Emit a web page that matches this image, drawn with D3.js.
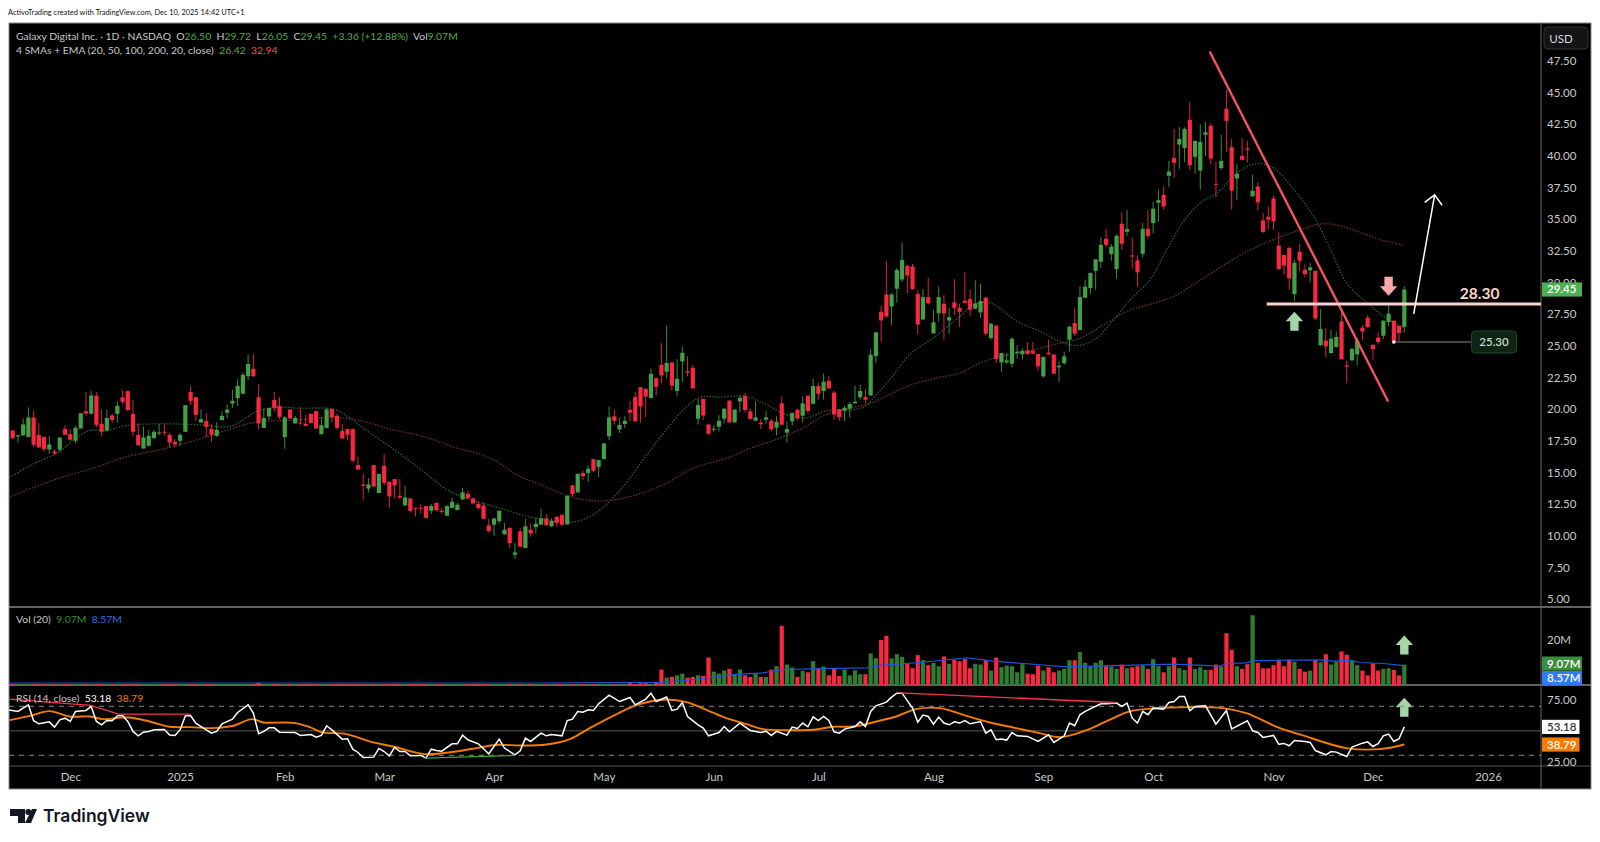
<!DOCTYPE html>
<html>
<head>
<meta charset="utf-8">
<title>Galaxy Digital Inc. 1D</title>
<script src="https://cdn.jsdelivr.net/npm/d3@7"></script>
<style>
    html, body { margin: 0; padding: 0; background: #fff; }
    svg { display: block; font-family: Lato, "Noto Sans", sans-serif; }
</style>
</head>
<body>
<svg id="chart" width="1600" height="842"></svg>
<script>
// Daily candles, oldest first
var opens = [18.31,17.84,17.92,17.79,19.34,17.97,17.81,16.81,16.65,16.79,18.44,18.02,17.50,18.47,19.84,19.63,21.05,18.84,18.31,19.50,
    19.63,20.92,21.42,19.63,17.97,16.89,17.10,17.71,18.10,18.21,17.97,17.42,17.50,18.21,21.36,20.94,18.94,19.05,18.44,17.89,
    19.13,19.71,20.44,20.87,21.21,22.60,23.18,20.94,18.52,19.42,20.73,20.26,17.79,19.97,18.87,18.94,18.84,19.63,19.84,18.02,
    18.52,20.02,19.47,18.29,18.44,18.44,15.58,14.05,13.73,15.58,13.37,15.52,14.26,14.47,13.16,12.39,12.95,12.21,12.21,12.34,
    11.97,12.60,11.97,11.58,12.18,12.02,12.87,13.31,12.95,12.52,12.39,10.82,10.87,11.16,10.10,10.63,8.50,10.34,9.03,10.47,
    10.68,10.87,11.37,10.74,11.50,11.66,10.89,13.97,13.42,14.95,14.95,16.05,15.42,16.05,17.85,19.43,18.40,18.82,19.95,20.95,
    21.74,21.61,20.87,22.45,23.50,22.95,23.69,21.43,23.77,23.00,23.27,19.24,20.82,18.79,18.37,18.61,19.24,20.66,18.95,20.61,
    21.06,19.82,19.08,18.93,19.16,19.08,18.53,20.45,18.14,19.03,19.95,19.48,21.06,20.43,21.82,21.43,22.24,21.30,20.00,19.87,
    20.03,20.45,20.93,20.95,21.08,24.19,27.69,29.06,28.11,29.51,30.24,31.32,31.27,29.11,27.08,28.85,25.98,27.58,28.32,27.00,
    28.43,27.98,28.56,28.69,27.93,27.64,28.80,25.61,26.59,23.69,23.69,23.59,24.43,24.33,24.64,24.61,24.35,22.59,24.46,24.30,
    23.30,23.62,25.48,26.80,26.25,28.80,29.56,30.93,31.64,33.46,32.25,31.06,34.64,34.01,32.14,31.75,32.27,34.25,34.69,36.30,
    36.93,38.43,39.85,40.90,40.64,42.85,39.93,38.85,41.67,42.38,37.80,39.04,43.72,40.69,38.22,40.01,40.59,36.80,37.59,34.91,
    35.20,36.64,32.91,32.17,32.72,29.09,32.43,31.01,30.96,30.93,25.04,25.41,24.43,24.91,26.93,23.46,23.85,24.33,26.43,27.22,
    25.09,25.64,25.80,26.88,26.99,26.59,26.50];
var highs = [18.36,17.94,19.26,20.15,19.89,18.89,17.81,17.87,16.84,17.76,18.73,18.42,18.68,19.68,21.36,21.42,21.34,19.97,19.97,19.63,
    20.63,21.47,21.42,20.71,18.89,18.63,18.36,18.36,18.84,18.84,18.15,17.63,18.10,20.31,21.84,20.94,20.00,19.68,18.79,18.97,
    19.84,20.36,21.52,22.36,22.89,24.31,24.36,21.97,20.07,20.10,21.34,20.94,19.47,19.97,19.47,20.15,19.55,19.63,19.89,19.36,
    20.07,20.02,19.63,18.84,18.44,18.44,16.23,14.89,14.55,15.58,14.89,16.47,14.26,14.47,14.47,13.95,12.95,12.21,12.52,12.34,
    12.52,12.60,12.16,12.42,13.02,12.58,13.79,13.50,13.02,12.71,12.58,11.34,11.37,11.99,11.02,10.63,9.42,10.60,11.34,10.95,
    11.39,12.13,11.71,11.37,11.50,11.66,13.16,14.03,14.89,15.13,15.55,16.05,16.00,17.29,20.19,19.95,19.30,19.43,20.64,21.35,
    21.74,21.61,23.21,22.45,25.21,26.59,23.69,23.95,24.95,24.19,23.50,20.82,20.82,18.79,18.74,19.53,20.08,20.74,20.00,21.08,
    21.27,20.03,20.61,19.22,19.87,19.22,19.43,21.00,19.03,19.77,20.03,21.00,21.06,22.40,22.08,22.79,22.58,21.43,20.00,20.27,
    20.56,21.85,21.93,21.58,24.74,26.11,28.16,31.69,29.16,31.14,33.14,31.40,31.48,29.37,29.48,30.37,27.85,29.69,29.03,27.98,
    30.27,28.33,30.80,29.43,30.17,29.90,28.90,26.80,26.67,24.43,24.43,25.69,25.06,24.82,25.30,25.30,24.35,24.17,25.48,24.35,
    23.75,24.54,26.59,27.98,29.69,30.22,30.80,31.83,33.59,34.22,33.04,33.82,35.56,35.74,33.54,32.14,34.69,35.69,36.38,37.33,
    37.59,39.61,42.14,42.27,42.27,44.27,41.22,42.51,42.69,42.59,39.54,41.67,45.22,41.33,39.38,41.41,41.20,38.51,37.93,35.49,
    36.01,36.85,33.96,32.17,32.85,31.80,33.06,31.43,31.54,30.93,27.91,26.41,26.28,26.14,27.59,23.83,24.83,25.62,26.64,27.43,
    25.09,26.09,26.99,28.20,26.99,26.59,29.72];
var lows = [17.65,17.31,17.92,17.79,17.00,16.97,16.68,16.47,16.39,16.63,17.97,17.52,17.31,18.47,19.47,19.58,18.58,17.84,18.21,18.89,
    18.94,20.42,19.86,17.84,17.10,16.89,17.05,17.68,17.94,17.89,16.94,17.00,17.10,18.21,20.34,19.08,18.92,17.79,17.42,17.81,
    19.10,19.29,20.10,20.26,21.21,22.31,22.52,18.44,18.52,19.15,19.81,19.21,16.87,19.26,18.87,18.76,18.68,18.89,18.42,18.00,
    18.50,18.94,18.36,17.68,17.52,15.79,15.23,12.84,13.42,13.84,13.37,14.00,12.21,12.95,12.89,12.39,11.84,11.52,11.74,11.39,
    11.71,11.92,11.76,11.58,12.18,12.02,12.84,12.89,12.52,12.10,11.34,10.24,10.00,10.95,10.10,9.02,8.18,9.10,9.03,9.92,
    10.18,10.87,10.79,10.71,10.71,10.74,10.87,13.10,13.39,14.37,14.24,15.00,14.63,16.05,17.53,18.77,18.11,18.50,19.03,19.03,
    18.95,19.37,20.87,21.08,22.06,22.45,21.48,21.00,22.16,22.58,21.61,18.77,19.16,17.98,18.22,18.24,18.87,18.93,18.93,19.77,
    19.74,19.16,19.08,18.40,18.85,18.24,17.93,18.74,17.37,18.69,19.11,18.95,19.64,20.37,20.74,20.74,21.58,19.16,19.08,19.03,
    19.32,20.45,20.74,20.43,21.06,23.64,25.29,27.22,26.66,28.40,30.06,29.14,29.43,25.90,27.08,28.27,25.95,26.93,25.48,25.98,
    27.43,26.48,28.38,27.38,27.90,27.22,25.80,25.48,23.64,22.96,23.59,23.30,23.98,23.90,24.33,24.38,23.06,22.43,24.27,22.80,
    22.12,23.51,24.54,25.80,26.22,28.80,29.12,29.43,31.14,32.80,31.72,30.30,32.59,33.69,31.09,29.67,31.98,33.48,33.90,34.80,
    35.75,37.54,38.27,38.98,39.51,38.90,38.59,37.33,40.01,39.33,36.75,38.90,40.30,35.75,36.54,39.64,39.49,36.80,35.70,33.91,
    34.22,34.17,31.01,30.62,29.43,28.54,30.88,30.43,30.01,27.01,25.01,24.09,24.38,24.88,23.93,22.06,23.83,23.46,25.43,26.43,
    23.91,25.09,25.54,26.54,25.35,25.35,26.05];
var closes = [17.71,17.94,18.79,19.34,17.18,16.97,16.84,17.21,16.50,17.76,17.97,17.58,18.52,19.68,19.65,21.08,18.76,18.21,19.29,19.15,
    20.26,20.58,19.92,18.21,17.15,17.76,17.89,18.21,18.15,18.15,17.36,17.21,17.97,20.31,20.65,19.55,19.21,18.60,17.97,18.36,
    19.47,19.97,20.65,21.84,22.71,23.57,22.60,18.87,19.29,20.10,20.07,19.39,19.34,19.26,19.31,18.89,18.68,18.89,18.47,18.73,
    19.97,19.34,18.52,17.68,17.97,15.92,15.23,13.94,14.05,13.89,14.89,14.18,13.10,13.97,13.02,13.02,11.97,12.16,12.16,11.42,
    12.34,12.02,11.87,12.34,12.68,12.45,13.42,12.95,12.55,12.18,11.34,10.37,11.37,11.97,10.47,9.42,8.68,9.13,10.74,10.18,
    10.95,11.37,10.84,11.18,11.02,10.87,13.16,13.29,14.89,14.71,15.29,15.13,15.97,17.29,19.35,19.08,18.74,19.08,19.72,19.03,
    20.22,21.00,22.79,21.77,22.66,23.64,21.85,22.40,24.45,22.90,21.64,20.32,19.50,18.06,18.45,19.08,20.03,18.95,19.95,20.90,
    19.93,19.22,19.35,18.80,19.35,18.40,19.00,18.77,18.43,19.69,19.27,20.45,19.85,21.82,21.21,22.16,21.64,19.58,19.37,20.11,
    20.40,20.58,21.43,20.74,24.29,26.06,27.00,27.32,29.06,31.00,31.79,30.56,29.48,26.69,28.85,28.35,26.85,28.85,27.56,27.27,
    28.00,27.69,28.40,27.85,28.35,28.54,25.96,26.75,23.96,24.43,23.85,25.56,24.54,24.61,24.33,24.38,23.38,24.12,24.33,22.80,
    23.43,24.17,26.51,25.96,28.85,29.67,30.75,31.83,32.98,32.98,32.83,33.69,33.06,34.22,32.06,30.80,34.25,33.69,35.83,36.51,
    36.01,38.77,39.46,41.33,42.14,39.27,41.19,41.11,41.88,39.80,37.72,39.61,42.77,37.27,38.59,39.70,40.49,37.25,36.33,33.99,
    34.96,34.83,31.06,31.35,30.33,31.56,31.72,30.67,31.20,27.17,26.33,24.96,25.57,25.70,23.93,23.36,24.75,25.41,26.12,26.49,
    24.75,25.30,26.99,27.54,25.35,26.01,29.45];

// Volume in millions. The early bars are a sliver on the baseline
var volumes = [0.3,0.3,0.3,0.3,0.3,0.3,0.3,0.3,0.3,0.3,0.3,0.3,0.3,0.3,0.3,0.3,0.3,0.3,0.3,0.3,
    0.3,0.3,0.3,0.3,0.3,0.3,0.3,0.3,0.3,0.3,0.3,0.3,0.3,0.3,0.3,0.3,0.3,0.3,0.3,0.3,
    0.3,0.3,0.3,0.3,0.3,0.3,0.3,0.9,0.3,0.3,0.3,0.3,0.3,0.3,0.3,0.3,0.3,0.3,0.3,0.3,
    0.3,0.3,0.3,0.3,0.3,0.3,0.3,0.3,0.3,0.3,0.3,0.3,0.3,0.3,0.3,0.3,0.3,0.3,0.3,0.3,
    0.3,0.3,0.3,0.3,0.3,0.3,0.3,0.3,0.3,0.3,0.3,0.3,0.3,0.3,0.3,0.3,0.3,0.3,0.3,0.3,
    0.3,0.3,0.3,0.3,0.3,0.3,0.3,0.3,0.3,0.3,0.3,0.3,0.3,0.3,0.3,0.3,0.3,0.3,0.8,0.4,
    0.8,0.8,0.5,1.0,6.85,3.3,3.6,4.3,5.05,3.3,3.6,4.3,4.0,12.2,5.95,5.05,6.4,7.15,4.8,6.85,
    4.3,3.6,5.05,3.6,3.6,6.85,8.35,26.3,9.1,7.75,3.6,6.25,5.65,10.6,7.15,8.2,4.3,7.3,4.0,6.85,
    4.3,6.55,4.8,4.8,14.0,11.9,20.0,21.9,11.8,13.7,12.5,9.4,7.45,13.3,11.0,8.8,9.85,8.35,12.7,9.4,
    11.3,10.6,11.6,7.45,9.4,9.1,11.0,6.4,12.2,7.9,8.65,8.35,5.65,9.25,5.05,4.8,8.65,6.4,7.9,5.65,
    6.4,7.15,11.0,11.0,14.6,9.85,8.2,9.85,11.0,8.5,8.2,7.15,9.1,7.45,7.9,8.35,8.8,7.15,11.5,8.35,
    5.65,8.35,12.2,7.45,6.7,12.2,7.15,7.9,6.7,6.7,9.1,8.35,23.0,15.7,8.35,7.15,9.25,31.0,9.85,7.45,
    7.45,8.8,11.3,8.35,11.3,10.3,7.15,5.95,6.4,11.3,10.1,13.7,9.1,10.3,14.9,13.4,11.0,8.8,6.4,4.3,
    9.55,6.4,7.15,7.45,6.7,4.3,9.07];

// Moving averages at the bar numbers in the Days arrays
var sma20Days = [-0.6,3.6,9,12,14.8,18,21.5,28,35.8,41.5,44,46.6,50.4,55,61.3,64.5,67,73.4,78.5,83,86,92.5,98.9,101.4,105.9,109.7,112.9,116.7,121.2,125,128.2,131.4,135.2,140.3,144.1,147.9,151.7,155.5,159.3,162.8,165.1,168.2,171.4,175.9,181.1,183.7,186.9,192,196.4,200.9,204,207.2,210.4,213.6,217.4,220.6,223.8,227,230.2,234,237.6,241,244.9,248.7,251.9,255,258.9,262.7,266];
var sma20Values = [14.6,15.6,16.65,17.71,18.31,18.31,18.68,18.84,18.76,18.63,19.15,19.81,20.13,20.07,20.0,19.29,18.5,16.66,15.08,13.63,13.05,12.26,11.47,11.31,11.05,11.39,12.26,13.89,16.39,18.4,19.95,20.93,20.95,21.0,20.35,19.56,19.3,19.87,19.9,20.2,21.14,22.6,24.3,25.61,27.33,28.25,28.38,26.93,26.14,25.22,25.04,25.61,27.06,28.64,30.22,32.59,34.83,36.28,37.06,38.64,39.38,39.04,37.33,35.22,32.59,29.96,28.38,27.14,26.42];
var sma50Days = [-0.6,3.9,10.3,16,21.5,29.4,37,42.2,46,50.4,54.9,61.3,67,72.1,78.5,84.9,88.7,92.5,96.3,101.4,106.5,111,114.2,119.3,124.4,130.1,137.2,140.3,145.4,150.4,155.5,160,163.8,168.2,171.4,176.5,181.1,184.9,188.8,193.9,199,204.1,209.1,213,219.3,221.9,225.7,229.6,236,241.7,246.2,250,252.9,257.6,261.5,266];
var sma50Values = [13.05,13.8,14.73,15.42,16.2,16.92,17.79,18.5,18.94,19.08,19.15,19.37,19.03,18.42,17.84,16.92,16.53,15.87,14.82,13.95,13.1,12.76,12.79,13.24,14.03,15.34,16.21,16.8,17.53,18.37,19.56,20.08,20.43,21.27,21.87,22.45,22.85,23.64,24.17,24.56,25.09,25.61,26.8,27.72,28.51,28.9,29.83,30.88,32.46,33.51,34.17,34.62,34.56,33.96,33.38,32.94];
var volMaDays = [-1,100,124,128.8,132.6,137.7,143.4,147.3,154.3,163.2,166.3,173.4,182.3,187.4,196.3,201.4,209,221.8,230.7,232,235.8,237,244.1,250.5,252.4,255.6,257.5,262,266];
var volMaValues = [0.9,0.9,1.2,2.1,3.1,4.6,5.4,6.9,7.3,7.6,8.8,10,12.1,10.6,9.0,8.1,8.5,9.25,8.35,9.55,9.85,10.75,11.05,11.05,10.6,11.05,10,9.55,8.57];

// RSI turning points
var rsiDays = [-1,1,2,3,4,5,7,8,9,10,11,12,14,15,16,17,18,19,20,21,22,23,24,25,26,27,29,30,31,32,33,34,35,36,38,39,40,42,43,45,46,47,48,49,50,51,54,55,57,58,59,60,61,63,64,65,66,67,69,70,71,72,73,74,75,76,78,79,80,81,82,84,85,86,87,89,91,93,94,96,
    97,98,99,101,102,103,105,106,107,108,109,110,111,112,114,116,118,119,121,122,123,125,126,127,128,129,131,132,133,135,136,137,139,141,143,144,145,146,148,149,150,151,152,153,154,155,156,157,158,159,161,162,163,164,165,167,168,169,170,172,173,174,175,176,177,178,179,180,181,182,183,185,186,187,188,189,190,191,192,194,196,
    198,199,201,202,203,204,205,208,209,211,212,213,214,215,216,217,218,220,221,222,223,224,225,226,228,230,232,233,236,237,238,239,241,242,243,244,245,247,248,249,251,252,253,255,256,258,259,260,261,262,263,264,265,266];
var rsiValues = [67.1,65.8,68.5,71.2,58.2,55.7,57.3,53.0,59.0,60.3,57.6,65.8,66.6,69.9,57.6,54.9,58.4,58.2,62.2,62.5,57.6,49.5,45.9,48.9,49.5,50.8,51.1,46.5,46.2,50.8,62.2,62.5,56.3,53.5,48.1,49.5,55.7,59.5,65.0,71.2,64.4,47.6,49.5,52.4,52.4,48.9,48.6,46.2,47.0,44.8,46.2,54.1,50.8,43.2,43.5,35.0,32.3,28.2,28.5,35.6,33.1,29.6,36.4,33.1,33.1,29.6,29.9,27.7,35.0,33.9,33.4,39.4,39.4,46.5,42.7,39.4,31.2,43.2,35.9,30.4,
    33.7,44.0,41.3,48.1,45.9,47.0,45.9,58.4,59.5,65.8,65.2,67.1,66.6,72.0,79.1,73.9,77.2,71.2,75.9,80.7,73.9,77.5,66.6,67.7,73.1,61.7,54.9,52.2,45.9,48.6,53.5,49.2,56.3,50.3,48.6,49.7,46.2,49.5,46.5,53.0,51.9,56.3,53.3,61.4,58.4,61.7,58.4,49.2,48.1,51.4,53.5,57.3,53.5,65.8,70.4,73.4,77.5,80.7,80.7,68.5,57.1,62.8,61.7,55.4,61.2,56.3,54.9,57.3,56.3,58.4,55.7,57.6,48.1,50.8,42.7,43.2,42.4,48.6,45.9,45.4,41.3,
    46.7,40.5,45.9,56.3,54.1,63.1,65.8,72.0,72.0,72.6,69.9,72.6,60.3,56.3,65.8,63.1,68.5,67.7,73.1,73.9,78.0,78.0,66.3,69.9,70.4,55.4,66.6,51.6,58.2,50.0,48.6,44.6,46.2,39.1,39.7,37.8,42.1,41.3,40.5,33.9,30.4,33.1,32.6,29.0,36.7,39.9,41.0,37.2,39.4,45.9,47.3,41.3,43.5,53.18];
var rsiMaDays = [-0.6,3.3,7,10.9,14.8,17.3,22.1,26.2,30,33.9,38.3,42.2,45.7,47.9,53.6,56.8,59,63.8,68.9,72.7,78.8,84.8,89.3,92.8,96.9,102,106.5,110.3,114.8,118.6,121.8,125,128.8,132.6,136.4,140.3,143.4,147.9,153,156.8,160.6,166.4,168.9,172.7,177.2,182.3,186.8,191.2,196.3,200.1,204.6,209,213.5,217.9,224.9,231.3,235.8,241.5,246.6,254.9,261.3,266];
var rsiMaValues = [58.7,62.2,66.1,61.7,61.7,59.5,60.9,57.6,53.3,53,52.2,54.1,59.5,56.8,56.5,53,48.9,47.3,40.5,37.2,31,33.1,36.4,38.6,38,38.8,43.2,52.2,62.2,69.9,73.9,75.6,73.4,67.1,60.3,55.4,51.4,50.5,50.8,53.3,53.5,59,61.7,67.7,68.5,62.2,56.8,52.7,48.1,44.8,49.5,57.6,65.8,68.2,69.3,68.5,64.4,53.5,46.2,35.9,35,38.79];

// Axis ticks
var priceTicks = [5,7.5,10,12.5,15,17.5,20,22.5,25,27.5,30,32.5,35,37.5,40,42.5,45,47.5];
var volTicks = [20];
var rsiTicks = [25,75];
var rsiLevels = [30,70];
var monthTicks = [11,32,52,71,92,113,134,154,176,197,218,241,260,282];
var monthLabels = ["Dec","2025","Feb","Mar","Apr","May","Jun","Jul","Aug","Sep","Oct","Nov","Dec","2026"];

var GREEN = "#43a047", RED = "#f7283f", VOL_GREEN = "#2e7d32", TEXT = "#c8c8c8";

var svg = d3.select("#chart");

// Pane edges
var frameLeft = 9, axisX = 1541, frameRight = 1591, frameTop = 23, frameBottom = 789;
var priceBottom = 607, volBottom = 685, rsiBottom = 766;

var x = d3.scaleLinear().domain([0, 266]).range([12.7, 1404.3]);
var y = d3.scaleLinear().domain([5, 47.5]).range([599, 61]);
var yVol = d3.scaleLinear().domain([0, 20]).range([volBottom, 640]);
var yRsi = d3.scaleLinear().domain([30, 70]).range([755.3, 706.3]);

// Frame and pane backgrounds
svg.append("rect").attr("x", frameLeft).attr("y", frameTop).attr("width", frameRight - frameLeft).attr("height", frameBottom - frameTop)
    .attr("fill", "#000").attr("stroke", "#8a8a8a").attr("stroke-width", 1);

var defs = svg.append("defs");
function addClip(id, y0, y1) {
    defs.append("clipPath").attr("id", id).append("rect")
        .attr("x", frameLeft).attr("y", y0).attr("width", axisX - frameLeft).attr("height", y1 - y0);
}
addClip("clipPrice", frameTop, priceBottom);
addClip("clipVol", priceBottom, volBottom);
addClip("clipRsi", volBottom, rsiBottom);

// Pane separators
[priceBottom, volBottom].forEach(function (d) {
    svg.append("line").attr("x1", frameLeft).attr("x2", frameRight).attr("y1", d).attr("y2", d)
        .attr("stroke", "#c4c4c4").attr("stroke-width", 1);
});
svg.append("line").attr("x1", frameLeft).attr("x2", frameRight).attr("y1", rsiBottom).attr("y2", rsiBottom)
    .attr("stroke", "#555").attr("stroke-width", 1);
svg.append("line").attr("x1", axisX).attr("x2", axisX).attr("y1", frameTop).attr("y2", frameBottom)
    .attr("stroke", "#666").attr("stroke-width", 1);

// Candles
var pricePane = svg.append("g").attr("clip-path", "url(#clipPrice)");
var candles = opens.map(function (o, i) {
    return { i: i, o: o, h: highs[i], l: lows[i], c: closes[i] };
});

// Dotted moving averages go under the candles
function dottedLine(days, values, color) {
    var line = d3.line().x(function (d) { return x(d[0]); }).y(function (d) { return y(d[1]); })
        .curve(d3.curveCatmullRom);
    pricePane.append("path").datum(d3.zip(days, values)).attr("d", line)
        .attr("fill", "none").attr("stroke", color).attr("stroke-width", 1.2).attr("stroke-dasharray", "1.5 1.5");
}
dottedLine(sma20Days, sma20Values, "#2f6638");
dottedLine(sma50Days, sma50Values, "#733438");

pricePane.selectAll(".wick").data(candles).enter().append("line")
    .attr("class", "wick")
    .attr("x1", function (d) { return x(d.i); })
    .attr("x2", function (d) { return x(d.i); })
    .attr("y1", function (d) { return y(d.h); })
    .attr("y2", function (d) { return y(d.l); })
    .attr("stroke", function (d) { return d.c >= d.o ? "#388e3c" : "#d8253a"; })
    .attr("stroke-width", 1);

pricePane.selectAll(".body").data(candles).enter().append("rect")
    .attr("class", "body")
    .attr("x", function (d) { return x(d.i) - 2.1; })
    .attr("width", 4.2)
    .attr("y", function (d) { return y(Math.max(d.o, d.c)); })
    .attr("height", function (d) { return Math.max(1, Math.abs(y(d.o) - y(d.c))); })
    .attr("fill", function (d) { return d.c >= d.o ? GREEN : RED; });

// Drawings on the price pane
var trendDays = [228.8, 262.9];
var trendPrices = [48.25, 20.6];
pricePane.append("line")
    .attr("x1", x(trendDays[0])).attr("y1", y(trendPrices[0]))
    .attr("x2", x(trendDays[1])).attr("y2", y(trendPrices[1]))
    .attr("stroke", "#f7525f").attr("stroke-width", 2.4);

var levelPrice = 28.30, levelStartDay = 239.7;
pricePane.append("line")
    .attr("x1", x(levelStartDay)).attr("y1", y(levelPrice))
    .attr("x2", axisX).attr("y2", y(levelPrice))
    .attr("stroke", "#fbd0d0").attr("stroke-width", 3);
pricePane.append("text").attr("x", x(280.4)).attr("y", y(levelPrice) - 5)
    .attr("text-anchor", "middle").attr("fill", "#fbd5cf")
    .attr("font-size", 15.5).attr("font-weight", 700).text("28.30");

// Block arrows: tip at the given bar and value, pointing up or down
function blockArrow(g, tipX, tipY, dir, color) {
    var pts = [[0, 0], [8.7, 9.5 ], [4.2, 9.5], [4.2, 19], [-4.2, 19], [-4.2, 9.5], [-8.7, 9.5]]
        .map(function (p) { return [tipX + p[0], tipY + dir * p[1]]; });
    g.append("polygon").attr("points", pts.join(" ")).attr("fill", color);
}
blockArrow(svg, x(245), y(27.69), 1, "#a5d6a7");
blockArrow(svg, x(263), y(28.95), -1, "#ffa6aa");
blockArrow(svg, x(266), yVol(22), 1, "#a5d6a7");
blockArrow(svg, x(266), yRsi(76.9), 1, "#a5d6a7");

// White target arrow
var arrowDays = [267.8, 271.8];
var arrowPrices = [27.53, 36.93];
pricePane.append("line")
    .attr("x1", x(arrowDays[0])).attr("y1", y(arrowPrices[0]))
    .attr("x2", x(arrowDays[1])).attr("y2", y(arrowPrices[1]))
    .attr("stroke", "#fff").attr("stroke-width", 1.5);
pricePane.append("polyline")
    .attr("points", [[x(arrowDays[1]) - 10, y(arrowPrices[1]) + 7.5], [x(arrowDays[1]), y(arrowPrices[1])], [x(arrowDays[1]) + 7.5, y(arrowPrices[1]) + 10.5]].join(" "))
    .attr("fill", "none").attr("stroke", "#fff").attr("stroke-width", 1.5);

// Price note 25.30
var noteDay = 264, notePrice = 25.30;
pricePane.append("line")
    .attr("x1", x(noteDay)).attr("x2", 1472).attr("y1", y(notePrice)).attr("y2", y(notePrice))
    .attr("stroke", "#7d8f7f").attr("stroke-width", 1);
pricePane.append("rect").attr("x", x(noteDay) - 1.5).attr("y", y(notePrice) - 1.5)
    .attr("width", 3).attr("height", 3).attr("fill", "#fff");
pricePane.append("rect").attr("x", 1471.5).attr("y", y(notePrice) - 11).attr("width", 45).attr("height", 22)
    .attr("rx", 4).attr("fill", "#0e2314").attr("stroke", "#1d4a2b");
pricePane.append("text").attr("x", 1494).attr("y", y(notePrice) + 4).attr("text-anchor", "middle")
    .attr("fill", "#c9d6ca").attr("font-size", 11.5).attr("font-weight", 600).text("25.30");

// Volume pane
var volPane = svg.append("g").attr("clip-path", "url(#clipVol)");
volPane.selectAll("rect").data(volumes).enter().append("rect")
    .attr("x", function (d, i) { return x(i) - 2.1; })
    .attr("width", 4.2)
    .attr("y", function (d) { return yVol(d); })
    .attr("height", function (d) { return yVol(0) - yVol(d); })
    .attr("fill", function (d, i) { return closes[i] >= opens[i] ? VOL_GREEN : RED; });
volPane.append("path").datum(d3.zip(volMaDays, volMaValues))
    .attr("d", d3.line().x(function (d) { return x(d[0]); }).y(function (d) { return yVol(d[1]); }))
    .attr("fill", "none").attr("stroke", "#1f55d8").attr("stroke-width", 1.2);

// RSI pane
var rsiPane = svg.append("g").attr("clip-path", "url(#clipRsi)");
rsiLevels.forEach(function (d) {
    rsiPane.append("line").attr("x1", frameLeft).attr("x2", axisX).attr("y1", yRsi(d)).attr("y2", yRsi(d))
        .attr("stroke", "#8a8a8a").attr("stroke-dasharray", "5 5");
});
rsiPane.append("line").attr("x1", frameLeft).attr("x2", axisX).attr("y1", yRsi(50)).attr("y2", yRsi(50))
    .attr("stroke", "#3a3a3a").attr("stroke-width", 1.5);

var rsiLine = d3.line().x(function (d) { return x(d[0]); }).y(function (d) { return yRsi(d[1]); });
rsiPane.append("path")
    .attr("d", rsiLine.curve(d3.curveCatmullRom)(d3.zip(rsiMaDays, rsiMaValues)))
    .attr("fill", "none").attr("stroke", "#f57c00").attr("stroke-width", 1.9);
rsiPane.append("path")
    .attr("d", rsiLine.curve(d3.curveLinear)(d3.zip(rsiDays, rsiValues)))
    .attr("fill", "none").attr("stroke", "#fff").attr("stroke-width", 1.5);

// Divergence lines drawn on the RSI
var divergences = [
    { days: [-0.6, 14.9, 20.2, 33.9], values: [75.9, 70.7, 63.6, 63.6], color: "#f7374a" },
    { days: [169.6, 210.9], values: [81, 73.1], color: "#f7374a" },
    { days: [78.8, 96], values: [27.7, 29.9], color: "#43a047" }
];
divergences.forEach(function (d) {
    rsiPane.append("path")
        .attr("d", rsiLine(d3.zip(d.days, d.values)))
        .attr("fill", "none").attr("stroke", d.color).attr("stroke-width", 1.3);
});

// Axes, drawn with d3 and stripped of their domain and tick marks
function styleAxis(g) {
    g.select(".domain").remove();
    g.selectAll(".tick line").remove();
    g.selectAll("text").attr("fill", TEXT).attr("font-family", 'Lato, "Noto Sans", sans-serif').attr("font-size", 11.5);
}
svg.append("g").attr("transform", "translate(" + (axisX + 1) + ",0)")
    .call(d3.axisRight(y).tickValues(priceTicks).tickFormat(d3.format(".2f")).tickSize(0).tickPadding(5))
    .call(styleAxis);
svg.append("g").attr("transform", "translate(" + (axisX + 1) + ",0)")
    .call(d3.axisRight(yVol).tickValues(volTicks).tickFormat(function (d) { return d + "M"; }).tickSize(0).tickPadding(5))
    .call(styleAxis);
svg.append("g").attr("transform", "translate(" + (axisX + 1) + ",0)")
    .call(d3.axisRight(yRsi).tickValues(rsiTicks).tickFormat(d3.format(".2f")).tickSize(0).tickPadding(5))
    .call(styleAxis);
svg.append("g").attr("transform", "translate(0," + (rsiBottom + 4) + ")")
    .call(d3.axisBottom(x).tickValues(monthTicks)
        .tickFormat(function (d, i) { return monthLabels[i]; }).tickSize(0).tickPadding(3))
    .call(styleAxis);

// Last value tags on the right axis
function valueTag(yPos, width, label, fill, color) {
    svg.append("rect").attr("x", axisX + 1).attr("y", yPos - 7.1).attr("width", width).attr("height", 14.2).attr("fill", fill);
    svg.append("text").attr("x", axisX + 6).attr("y", yPos + 4).attr("fill", color)
        .attr("font-size", 11.5).attr("font-weight", 600).text(label);
}
valueTag(y(closes[closes.length - 1]), 40, "29.45", "#4caf50", "#fff");
valueTag(yVol(volumes[volumes.length - 1]) - 1, 40, "9.07M", "#388e3c", "#fff");
valueTag(yVol(volMaValues[volMaValues.length - 1]) + 12.4, 40, "8.57M", "#2f7bf5", "#fff");
valueTag(yRsi(53.18), 37.5, "53.18", "#fff", "#333");
valueTag(yRsi(38.79), 37.5, "38.79", "#f57c00", "#fff");

// Currency button
svg.append("rect").attr("x", 1544).attr("y", 27).attr("width", 44).attr("height", 22).attr("rx", 4)
    .attr("fill", "#141414").attr("stroke", "#333");
svg.append("text").attr("x", 1561).attr("y", 42.5).attr("text-anchor", "middle")
    .attr("fill", "#d8d8d8").attr("font-size", 11.5).text("USD");

// Legends, each a row of coloured pieces
function legendRow(yPos, pieces) {
    var t = svg.append("text").attr("x", 16).attr("y", yPos).attr("font-size", 10.4).attr("xml:space", "preserve");
    pieces.forEach(function (p) {
        t.append("tspan").attr("fill", p[1]).text(p[0]);
    });
}
var LEG = "#c8c8c8", UP = "#4caf50";
legendRow(40, [
    ["Galaxy Digital Inc. · 1D · NASDAQ  O", LEG], ["26.50", UP], ["  H", LEG], ["29.72", UP], ["  L", LEG], ["26.05", UP],
    ["  C", LEG], ["29.45", UP], ["  +3.36 (+12.88%)", UP], ["  Vol", LEG], ["9.07M", UP]
]);
legendRow(54, [
    ["4 SMAs + EMA (20, 50, 100, 200, 20, close)  ", LEG], ["26.42", UP], ["  ", LEG], ["32.94", "#ef5350"]
]);
legendRow(623, [["Vol (20)  ", LEG], ["9.07M", "#388e3c"], ["  ", LEG], ["8.57M", "#2f6fe0"]]);
legendRow(702, [["RSI (14, close)  ", LEG], ["53.18", "#fff"], ["  ", LEG], ["38.79", "#f57c00"]]);

// Page header and logo
svg.append("text").attr("x", 8).attr("y", 15).attr("fill", "#111").attr("font-size", 7.4)
    .text("ActivoTrading created with TradingView.com, Dec 10, 2025 14:42 UTC+1");
var logo = svg.append("g").attr("fill", "#131722");
logo.append("polygon").attr("points", "10,809 25,809 25,823 18,823 18,816 10,816");
logo.append("circle").attr("cx", 28.3).attr("cy", 812).attr("r", 3);
logo.append("polygon").attr("points", "32,809 37,809 31,823 25,823");
svg.append("text").attr("x", 43).attr("y", 822).attr("fill", "#131722")
    .attr("font-family", "Inter, sans-serif").attr("font-size", 17.5).attr("font-weight", 600).text("TradingView");
</script>
</body>
</html>
